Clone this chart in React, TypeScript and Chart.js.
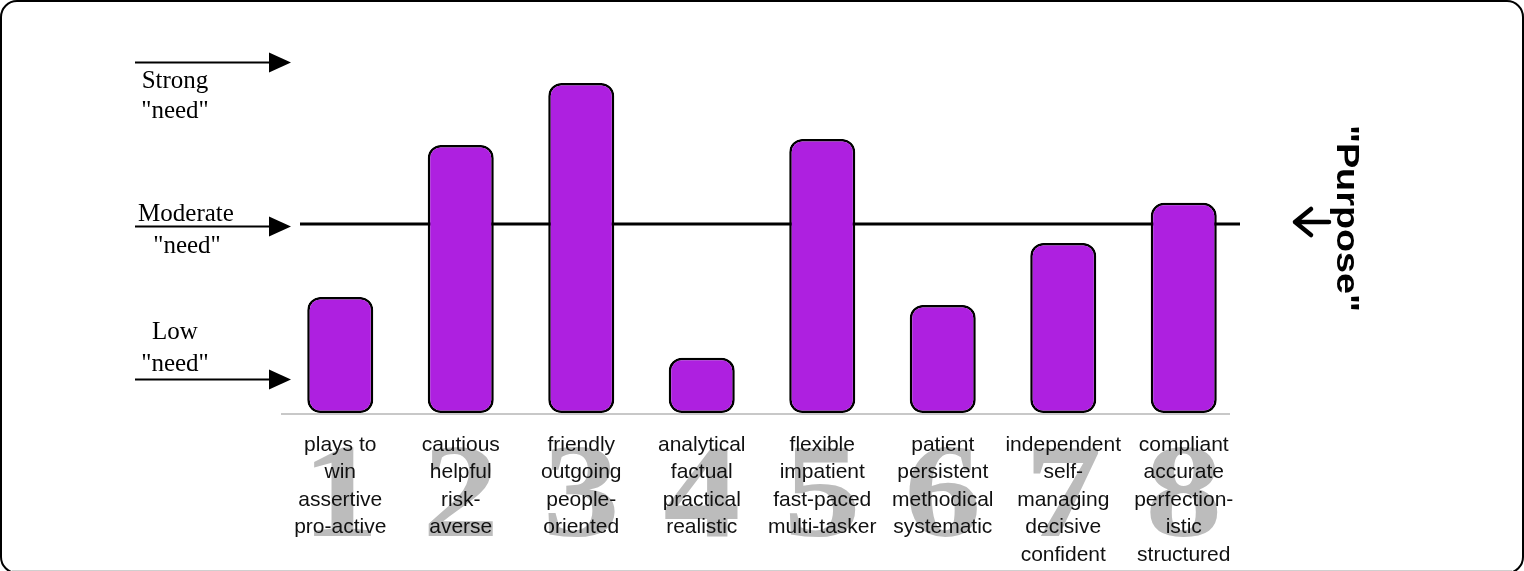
import React, { useEffect, useRef } from "react";
import { Chart, registerables } from "chart.js";

Chart.register(...registerables);

// ---- data ----
const categoryLabels: string[][] = [
  ["plays to", "win", "assertive", "pro-active"],
  ["cautious", "helpful", "risk-", "averse"],
  ["friendly", "outgoing", "people-", "oriented"],
  ["analytical", "factual", "practical", "realistic"],
  ["flexible", "impatient", "fast-paced", "multi-tasker"],
  ["patient", "persistent", "methodical", "systematic"],
  ["independent", "self-", "managing", "decisive", "confident"],
  ["compliant", "accurate", "perfection-", "istic", "structured"],
];
const categoryNumbers: string[] = ["1", "2", "3", "4", "5", "6", "7", "8"];
const needValues: number[] = [30.7, 70.9, 87.3, 14.6, 72.5, 28.6, 45.0, 55.6];
const moderateLevel = 50;
const levelValues: number[] = [92.9, 49.5, 9.0];
const levelNames: string[][] = [
  ["Strong", '"need"'],
  ["Moderate", '"need"'],
  ["Low", '"need"'],
];
const sideTitle = '"Purpose"';

const W = 1524;
const H = 571;

const decorPlugin = {
  id: "decor",
  beforeDraw(chart: any) {
    const ctx = chart.ctx as CanvasRenderingContext2D;
    const y = chart.scales.y;
    const x = chart.scales.x;
    const area = chart.chartArea;
    ctx.save();
    ctx.fillStyle = "#ffffff";
    ctx.fillRect(0, 0, W, H);

    // frame
    ctx.strokeStyle = "#000";
    ctx.lineWidth = 2;
    ctx.beginPath();
    (ctx as any).roundRect(1, 1, W - 2, H + 1, 16);
    ctx.stroke();
    ctx.strokeStyle = "#cfcfcf";
    ctx.lineWidth = 1;
    ctx.beginPath();
    ctx.moveTo(12, H - 0.5);
    ctx.lineTo(W - 12, H - 0.5);
    ctx.stroke();

    // big grey numbers behind labels
    ctx.fillStyle = "#bcbcbc";
    ctx.font = 'bold 134px "Liberation Serif", "Times New Roman", serif';
    ctx.textAlign = "center";
    ctx.textBaseline = "alphabetic";
    categoryNumbers.forEach((n, i) => {
      ctx.save();
      ctx.translate(x.getPixelForValue(i), area.bottom + 123);
      ctx.scale(1.15, 1);
      ctx.fillText(n, 0, 0);
      ctx.restore();
    });

    // left level arrows and texts
    levelValues.forEach((v, i) => {
      const py = Math.round(y.getPixelForValue(v)) + 0.5;
      ctx.strokeStyle = "#000";
      ctx.lineWidth = 2;
      ctx.beginPath();
      ctx.moveTo(135, py);
      ctx.lineTo(272, py);
      ctx.stroke();
      ctx.fillStyle = "#000";
      ctx.beginPath();
      ctx.moveTo(269, py - 10);
      ctx.lineTo(291, py);
      ctx.lineTo(269, py + 10);
      ctx.closePath();
      ctx.fill();

      ctx.font = '25px "Liberation Serif", "Times New Roman", serif';
      ctx.textAlign = "center";
      ctx.textBaseline = "alphabetic";
      const names = levelNames[i];
      if (i === 0) {
        ctx.fillText(names[0], 175, py + 25);
        ctx.fillText(names[1], 175, py + 55);
      } else if (i === 1) {
        ctx.fillText(names[0], 186, py - 6);
        ctx.fillText(names[1], 187, py + 26);
      } else {
        ctx.fillText(names[0], 175, py - 41);
        ctx.fillText(names[1], 175, py - 9);
      }
    });

    // baseline
    ctx.strokeStyle = "#c8c8c8";
    ctx.lineWidth = 2;
    ctx.beginPath();
    ctx.moveTo(area.left + 1, area.bottom + 1);
    ctx.lineTo(area.right - 14, area.bottom + 1);
    ctx.stroke();

    // moderate line
    const my = y.getPixelForValue(moderateLevel);
    ctx.strokeStyle = "#000";
    ctx.lineWidth = 3;
    ctx.beginPath();
    ctx.moveTo(area.left + 20, my);
    ctx.lineTo(area.right - 4, my);
    ctx.stroke();

    // side title
    ctx.save();
    ctx.translate(1337, 218.5);
    ctx.rotate(Math.PI / 2);
    ctx.font = 'bold 32px "Liberation Sans", Arial, sans-serif';
    const tw = ctx.measureText(sideTitle).width;
    ctx.scale(187 / tw, 1);
    ctx.fillStyle = "#000";
    ctx.textAlign = "center";
    ctx.textBaseline = "alphabetic";
    ctx.fillText(sideTitle, 0, 0);
    ctx.restore();

    // arrow left of title
    ctx.strokeStyle = "#000";
    ctx.lineWidth = 4.5;
    ctx.lineCap = "round";
    ctx.lineJoin = "round";
    ctx.beginPath();
    ctx.moveTo(1329, 222);
    ctx.lineTo(1295, 222);
    ctx.moveTo(1311, 209);
    ctx.lineTo(1295, 222);
    ctx.lineTo(1311, 235);
    ctx.stroke();

    ctx.restore();
  },
};

export default function App() {
  const ref = useRef<HTMLCanvasElement | null>(null);
  useEffect(() => {
    if (!ref.current) return;
    const chart = new Chart(ref.current, {
      type: "bar",
      data: {
        labels: categoryLabels,
        datasets: [
          {
            data: needValues,
            backgroundColor: "#ae20e0",
            borderColor: "#000",
            borderWidth: 2.5,
            borderRadius: 13,
            borderSkipped: false,
            categoryPercentage: 1,
            barPercentage: 0.548,
          },
        ],
      },
      options: {
        responsive: false,
        animation: false,
        devicePixelRatio: 1,
        layout: { padding: { left: 280, right: 280, top: 35, bottom: 0 } },
        plugins: { legend: { display: false }, tooltip: { enabled: false } },
        scales: {
          x: {
            grid: { display: false, drawTicks: false },
            border: { display: false },
            afterFit: (scale: any) => {
              scale.height = 158;
            },
            ticks: {
              autoSkip: false,
              maxRotation: 0,
              minRotation: 0,
              padding: 18,
              color: "#111",
              font: {
                family: '"Liberation Sans", Arial, sans-serif',
                size: 21,
                lineHeight: 27.5 / 21,
              },
            },
          },
          y: { display: false, min: 0, max: 100 },
        },
      },
      plugins: [decorPlugin],
    });
    return () => chart.destroy();
  }, []);
  return (
    <>
      <style>{`body{margin:0;overflow:hidden;background:#fff}`}</style>
      <canvas ref={ref} width={W} height={H} style={{ display: "block", width: W, height: H }} />
    </>
  );
}
